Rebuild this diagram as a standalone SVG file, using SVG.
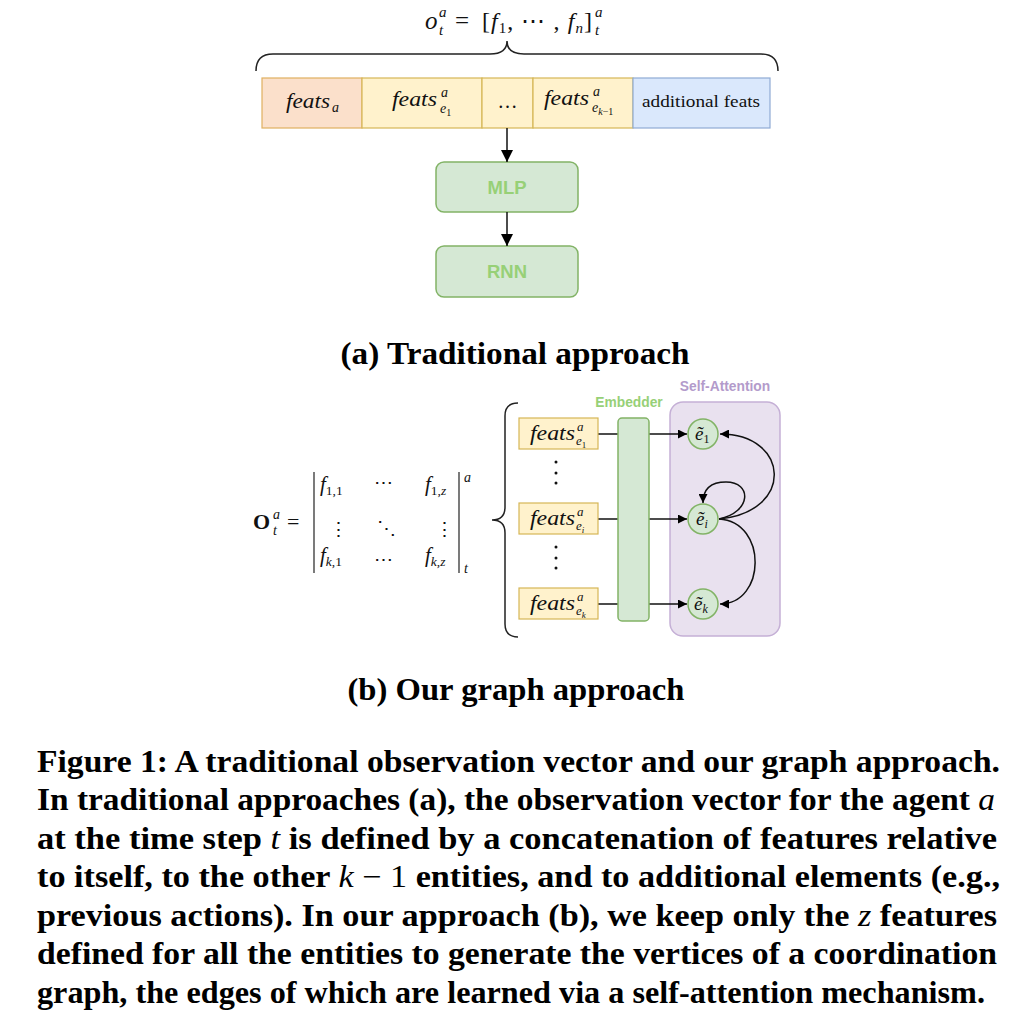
<svg xmlns="http://www.w3.org/2000/svg" width="1022" height="1024" viewBox="0 0 1022 1024">
<defs>
<style>
.m{font-family:"Liberation Serif","DejaVu Serif",serif;fill:#111}
.i{font-style:italic}
.cap{font-family:"Liberation Serif","DejaVu Serif",serif;font-weight:bold;font-size:31px;fill:#000}
.sf{font-family:"Liberation Sans",Arial,sans-serif;font-weight:bold}
.yb{fill:#fff2cc;stroke:#d6b656;stroke-width:1.2}
.gb{fill:#d5e8d4;stroke:#82b366;stroke-width:1.5}
.ln{stroke:#111;stroke-width:1.5;fill:none}
.br{stroke:#222;stroke-width:1.5;fill:none}
</style>
<marker id="ah" viewBox="0 0 10 10" refX="10" refY="5" markerWidth="12" markerHeight="12" markerUnits="userSpaceOnUse" orient="auto"><path d="M0,0 L10,5 L0,10 z" fill="#000"/></marker>
<marker id="as" viewBox="0 0 10 10" refX="10" refY="5" markerWidth="9" markerHeight="9" markerUnits="userSpaceOnUse" orient="auto"><path d="M0,0 L10,5 L0,10 z" fill="#000"/></marker>
</defs>
<rect width="1022" height="1024" fill="#fff"/>

<!-- (a) formula -->
<g id="formula-a">
<text x="425" y="29" font-size="25" class="m i">o</text>
<text x="439" y="17" font-size="15" class="m i">a</text>
<text x="439" y="35" font-size="15" class="m i">t</text>
<text x="455" y="29" font-size="25" class="m">=</text>
<text x="482" y="29" font-size="24" class="m" textLength="110" lengthAdjust="spacing">[<tspan class="i">f</tspan><tspan dy="4" font-size="15">1</tspan><tspan dy="-4">, ⋯ , </tspan><tspan class="i">f</tspan><tspan dy="4" font-size="15" class="i">n</tspan><tspan dy="-4">]</tspan></text>
<text x="595" y="17" font-size="15" class="m i">a</text>
<text x="595" y="35" font-size="15" class="m i">t</text>
</g>
<path id="brace-a" class="br" d="M256,71 Q256,54 273,54 L490,54 Q507,54 507,41 Q507,54 524,54 L761,54 Q778,54 778,71"/>

<!-- (a) feature vector -->
<g id="feats-a">
<rect x="262" y="78" width="100" height="50" fill="#fbe0cb" stroke="#e0b060" stroke-width="1.2"/>
<text x="286" y="108" font-size="21" class="m i" textLength="44" lengthAdjust="spacingAndGlyphs">feats</text>
<text x="332" y="112" font-size="14" class="m i">a</text>
</g>
<g id="feats-e1">
<rect x="362" y="78" width="120" height="50" class="yb"/>
<text x="392" y="106" font-size="21" class="m i" textLength="45" lengthAdjust="spacingAndGlyphs">feats</text>
<text x="441" y="97" font-size="14" class="m i">a</text>
<text x="440" y="113" font-size="14" class="m i">e<tspan dy="3" font-size="10" font-style="normal">1</tspan></text>
</g>
<g id="feats-dots">
<rect x="482" y="78" width="51" height="50" class="yb"/>
<text x="507.5" y="108" font-size="20" class="m" text-anchor="middle">…</text>
</g>
<g id="feats-ek1">
<rect x="533" y="78" width="100" height="50" class="yb"/>
<text x="544" y="105" font-size="21" class="m i" textLength="45" lengthAdjust="spacingAndGlyphs">feats</text>
<text x="593" y="96" font-size="14" class="m i">a</text>
<text x="592" y="112" font-size="14" class="m i">e<tspan dy="3" font-size="10">k</tspan><tspan font-size="10" font-style="normal">−1</tspan></text>
</g>
<g id="additional-feats">
<rect x="633" y="78" width="137" height="50" fill="#dae8fc" stroke="#8fabd4" stroke-width="1.2"/>
<text x="701" y="107" font-size="16" class="m" text-anchor="middle" textLength="118" lengthAdjust="spacingAndGlyphs">additional feats</text>
</g>
<g id="mlp">
<rect x="436" y="162" width="142" height="50" rx="8" class="gb"/>
<text x="507" y="194" font-size="18.5" class="sf" fill="#97d077" text-anchor="middle">MLP</text>
</g>
<g id="rnn">
<rect x="436" y="246" width="142" height="51" rx="8" class="gb"/>
<text x="507" y="278" font-size="18.5" class="sf" fill="#97d077" text-anchor="middle">RNN</text>
</g>
<g id="connectors-a">
<line x1="507" y1="128" x2="507" y2="162" class="ln" marker-end="url(#ah)"/>
<line x1="507" y1="212" x2="507" y2="246" class="ln" marker-end="url(#ah)"/>
</g>
<text x="515" y="364" class="cap" font-size="27" text-anchor="middle" textLength="349" lengthAdjust="spacingAndGlyphs">(a) Traditional approach</text>

<!-- (b) matrix -->
<g id="matrix">
<text x="253" y="529" font-size="22" font-weight="bold" class="m">O</text>
<text x="273" y="519" font-size="14" class="m i">a</text>
<text x="273" y="535" font-size="14" class="m i">t</text>
<text x="287" y="529" font-size="22" class="m">=</text>
<line x1="314" y1="472" x2="314" y2="573" stroke="#222" stroke-width="1.2"/>
<line x1="459" y1="472" x2="459" y2="573" stroke="#222" stroke-width="1.2"/>
<text x="320" y="491" font-size="21" class="m"><tspan class="i">f</tspan><tspan dy="4" font-size="13.5">1,1</tspan></text>
<text x="374" y="489" font-size="19" class="m">⋯</text>
<text x="425" y="491" font-size="21" class="m"><tspan class="i">f</tspan><tspan dy="4" font-size="13.5">1,<tspan class="i">z</tspan></tspan></text>
<text x="329" y="536" font-size="19" class="m">⋮</text>
<text x="377" y="535" font-size="19" class="m">⋱</text>
<text x="435" y="536" font-size="19" class="m">⋮</text>
<text x="320" y="562" font-size="21" class="m"><tspan class="i">f</tspan><tspan dy="4" font-size="13.5"><tspan class="i">k</tspan>,1</tspan></text>
<text x="374" y="566" font-size="19" class="m">⋯</text>
<text x="425" y="562" font-size="21" class="m"><tspan class="i">f</tspan><tspan dy="4" font-size="13.5"><tspan class="i">k</tspan>,<tspan class="i">z</tspan></tspan></text>
<text x="464" y="482" font-size="14" class="m i">a</text>
<text x="464" y="573" font-size="14" class="m i">t</text>
</g>
<path id="brace-b" class="br" d="M518,403 Q505,403 505,416 L505,507 Q505,520 492,520 Q505,520 505,533 L505,624 Q505,637 518,637"/>

<!-- (b) self-attention container -->
<g id="self-attention">
<rect x="670" y="402" width="110" height="234" rx="13" fill="#e9e1ef" stroke="#c5b0d6" stroke-width="1.5"/>
<text x="725" y="391" font-size="13.8" class="sf" fill="#b39bcb" text-anchor="middle">Self-Attention</text>
</g>

<g id="connectors-b">
<line x1="598" y1="434" x2="687" y2="434" class="ln" marker-end="url(#as)"/>
<line x1="598" y1="519" x2="687" y2="519" class="ln" marker-end="url(#as)"/>
<line x1="598" y1="604" x2="687" y2="604" class="ln" marker-end="url(#as)"/>
<path d="M719,519 C795,512 790,434 720,434" class="ln" stroke-width="1.3" marker-end="url(#as)"/>
<path d="M719,519 C752,512 752,482 726,482 C712,482 703,488 703,503" class="ln" stroke-width="1.3" marker-end="url(#as)"/>
<path d="M719,519 C768,522 766,604 720,604" class="ln" stroke-width="1.3" marker-end="url(#as)"/>
</g>

<g id="feats-b1">
<rect x="519" y="418" width="79" height="31" class="yb"/>
<text x="530" y="440" font-size="20" class="m i" textLength="45" lengthAdjust="spacingAndGlyphs">feats</text>
<text x="577" y="431" font-size="13" class="m i">a</text>
<text x="576" y="445" font-size="13" class="m i">e<tspan dy="3" font-size="9" font-style="normal">1</tspan></text>
</g>
<g id="feats-bi">
<rect x="519" y="503" width="79" height="31" class="yb"/>
<text x="530" y="525" font-size="20" class="m i" textLength="45" lengthAdjust="spacingAndGlyphs">feats</text>
<text x="577" y="516" font-size="13" class="m i">a</text>
<text x="576" y="530" font-size="13" class="m i">e<tspan dy="3" font-size="9">i</tspan></text>
</g>
<g id="feats-bk">
<rect x="519" y="588" width="79" height="31" class="yb"/>
<text x="530" y="610" font-size="20" class="m i" textLength="45" lengthAdjust="spacingAndGlyphs">feats</text>
<text x="577" y="601" font-size="13" class="m i">a</text>
<text x="576" y="615" font-size="13" class="m i">e<tspan dy="3" font-size="9">k</tspan></text>
</g>
<g id="vdots" fill="#111">
<circle cx="556" cy="462" r="1.5"/><circle cx="556" cy="473" r="1.5"/><circle cx="556" cy="483" r="1.5"/>
<circle cx="556" cy="547" r="1.5"/><circle cx="556" cy="558" r="1.5"/><circle cx="556" cy="568" r="1.5"/>
</g>
<g id="embedder">
<rect x="618" y="418" width="31" height="203" rx="4" class="gb"/>
<text x="629" y="407" font-size="13.8" class="sf" fill="#97d077" text-anchor="middle">Embedder</text>
</g>
<g id="node-e1">
<circle cx="703" cy="434" r="15" class="gb"/>
<text x="695" y="440" font-size="19" class="m i">ẽ<tspan dy="3" font-size="12" font-style="normal">1</tspan></text>
</g>
<g id="node-ei">
<circle cx="703" cy="519" r="15" class="gb"/>
<text x="696" y="525" font-size="19" class="m i">ẽ<tspan dy="3" font-size="12">i</tspan></text>
</g>
<g id="node-ek">
<circle cx="703" cy="604" r="15" class="gb"/>
<text x="694" y="610" font-size="19" class="m i">ẽ<tspan dy="3" font-size="12">k</tspan></text>
</g>
<text x="516" y="700" class="cap" font-size="27" text-anchor="middle" textLength="337" lengthAdjust="spacingAndGlyphs">(b) Our graph approach</text>

<!-- caption -->
<g id="caption" class="cap">
<text x="37" y="772" textLength="963" lengthAdjust="spacingAndGlyphs">Figure 1: A traditional observation vector and our graph approach.</text>
<text x="37" y="810" textLength="958" lengthAdjust="spacingAndGlyphs">In traditional approaches (a), the observation vector for the agent <tspan font-style="italic" font-weight="normal">a</tspan></text>
<text x="37" y="849" textLength="960" lengthAdjust="spacingAndGlyphs">at the time step <tspan font-style="italic" font-weight="normal">t</tspan> is defined by a concatenation of features relative</text>
<text x="37" y="887" textLength="963" lengthAdjust="spacingAndGlyphs">to itself, to the other <tspan font-style="italic" font-weight="normal">k</tspan><tspan font-weight="normal"> − 1</tspan> entities, and to additional elements (e.g.,</text>
<text x="37" y="926" textLength="960" lengthAdjust="spacingAndGlyphs">previous actions). In our approach (b), we keep only the <tspan font-style="italic" font-weight="normal">z</tspan> features</text>
<text x="37" y="964" textLength="960" lengthAdjust="spacingAndGlyphs">defined for all the entities to generate the vertices of a coordination</text>
<text x="37" y="1003" textLength="948" lengthAdjust="spacingAndGlyphs">graph, the edges of which are learned via a self-attention mechanism.</text>
</g>
</svg>
